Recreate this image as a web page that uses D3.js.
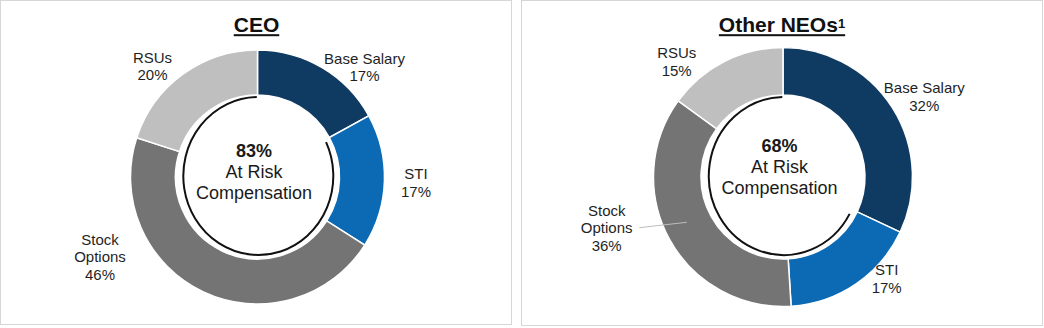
<!DOCTYPE html>
<html>
<head>
<meta charset="utf-8">
<script src="https://cdn.jsdelivr.net/npm/d3@7"></script>
<style>
  html, body { margin: 0; padding: 0; background: #fff; }
  svg { display: block; font-family: "Liberation Sans", Arial, sans-serif; }
</style>
</head>
<body>
<svg id="chart" width="1044" height="328"></svg>
<script>
// ---- data ----
const categories = ["Base Salary", "STI", "Stock Options", "RSUs"];
const ceoValues = [17, 17, 46, 20];
const neoValues = [32, 17, 36, 15];
const atRiskTotals = [83, 68];
const chartTitles = ["CEO", "Other NEOs"];
const titleNotes = ["", "1"];
const centerLines = ["At Risk", "Compensation"];

// ---- styling / layout ----
const colors = ["#0f3b63", "#0c6ab4", "#747474", "#bfbfbf"];
const labelLines = [["Base Salary"], ["STI"], ["Stock", "Options"], ["RSUs"]];

const panels = [
  { x: 0.5, y: 0.5, w: 511, h: 324, cx: 257.5, cy: 177, r: 127, ri: 82,
    titleY: 32, centerDy: 0,
    labels: [[107, -110], [158.5, 5.5], [-157.5, 80], [-105, -111]],
    leader: null },
  { x: 521.5, y: 0.5, w: 521, h: 325, cx: 783, cy: 177, r: 129.5, ri: 82,
    titleY: 32, centerDy: -5,
    labels: [[141.3, -80.2], [103.7, 101.7], [-176.3, 51], [-106.3, -115.5]],
    leader: [[-143.7, 50.7], [-96.3, 45.3]] }
];

const svg = d3.select("#chart");
const datasets = [ceoValues, neoValues];

const pie = d3.pie().sort(null).value(d => d).startAngle(0).endAngle(2 * Math.PI);

panels.forEach((p, i) => {
  // panel border
  svg.append("rect")
    .attr("x", p.x).attr("y", p.y).attr("width", p.w).attr("height", p.h)
    .attr("fill", "#fff").attr("stroke", "#d6d6d6").attr("stroke-width", 1);

  const g = svg.append("g").attr("transform", `translate(${p.cx},${p.cy})`);
  const arcs = pie(datasets[i]);
  const arc = d3.arc().innerRadius(p.ri).outerRadius(p.r);

  g.selectAll("path.slice").data(arcs).enter().append("path")
    .attr("class", "slice")
    .attr("d", arc)
    .attr("fill", (d, j) => colors[j])
    .attr("stroke", "#fff").attr("stroke-width", 1.5);

  // at-risk bracket arc (from end of base salary slice around to top)
  const riskArc = d3.arc().innerRadius(77).outerRadius(77)
    .startAngle(arcs[0].endAngle + 0.06).endAngle(2 * Math.PI - 0.02);
  g.append("path")
    .attr("d", riskArc())
    .attr("transform", `translate(0.8,-1) scale(${75 / 77},${79 / 77})`)
    .attr("fill", "none").attr("stroke", "#111").attr("stroke-width", 2)
    .attr("vector-effect", "non-scaling-stroke");

  // center text
  const ct = g.append("g").attr("transform", `translate(-3.5,${p.centerDy})`);
  ct.append("text").attr("text-anchor", "middle").attr("y", -20.5)
    .attr("font-size", 18).attr("font-weight", "bold").attr("fill", "#1a1a1a")
    .text(atRiskTotals[i] + "%");
  centerLines.forEach((t, k) => {
    ct.append("text").attr("text-anchor", "middle").attr("y", 0.5 + k * 21)
      .attr("font-size", 18).attr("fill", "#1a1a1a").text(t);
  });

  // slice labels
  arcs.forEach((a, j) => {
    const lines = labelLines[j].concat([a.data + "%"]);
    const [lx, ly] = p.labels[j];
    const lh = 17.7;
    const top = ly + 5.35 - (lines.length - 1) * lh / 2;
    const t = g.append("text").attr("text-anchor", "middle")
      .attr("font-size", 15).attr("fill", "#1f1f1f");
    lines.forEach((s, k) => {
      t.append("tspan").attr("x", lx).attr("y", top + k * lh).text(s);
    });
  });

  if (p.leader) {
    g.append("line")
      .attr("x1", p.leader[0][0]).attr("y1", p.leader[0][1])
      .attr("x2", p.leader[1][0]).attr("y2", p.leader[1][1])
      .attr("stroke", "#bdbdbd").attr("stroke-width", 1);
  }

  // title with underline
  const tx = p.x + p.w / 2 + (i === 0 ? 0.5 : 0);
  const title = svg.append("text").attr("x", tx).attr("y", p.titleY)
    .attr("text-anchor", "middle").attr("font-size", 21).attr("font-weight", "bold")
    .attr("fill", "#111");
  title.append("tspan").text(chartTitles[i]);
  if (titleNotes[i]) {
    title.append("tspan").attr("font-size", 13).attr("dy", -4).text(titleNotes[i]);
  }
  const bb = title.node().getBBox();
  svg.append("rect").attr("x", bb.x).attr("y", p.titleY + 2.2)
    .attr("width", bb.width).attr("height", 2).attr("fill", "#111");
});
</script>
</body>
</html>
